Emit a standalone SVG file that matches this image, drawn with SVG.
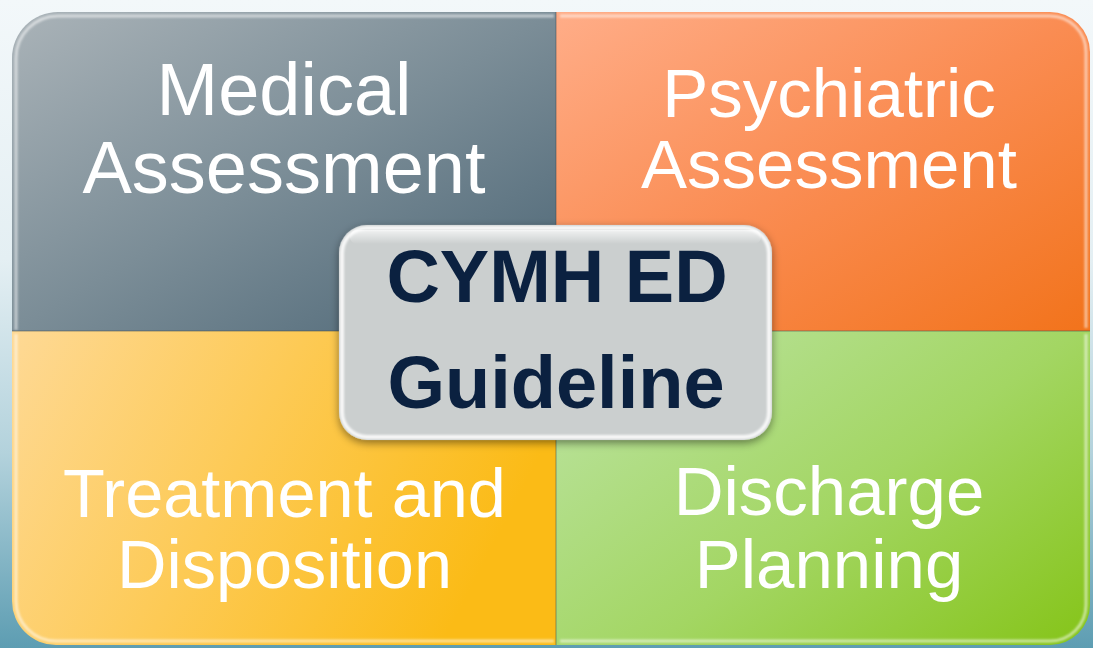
<svg xmlns="http://www.w3.org/2000/svg" width="1093" height="648" viewBox="0 0 1093 648">
  <defs>
    <linearGradient id="bg" x1="0" y1="0" x2="0" y2="1">
      <stop offset="0" stop-color="#f3f8fa"/>
      <stop offset="0.4" stop-color="#e4eff3"/>
      <stop offset="0.7" stop-color="#b3d2dc"/>
      <stop offset="1" stop-color="#5d9db2"/>
    </linearGradient>
    <linearGradient id="gMed" x1="0" y1="0" x2="1" y2="1">
      <stop offset="0" stop-color="#aab3b8"/>
      <stop offset="0.5" stop-color="#7b8d97"/>
      <stop offset="1" stop-color="#4a6474"/>
    </linearGradient>
    <linearGradient id="gPsy" x1="0" y1="0" x2="1" y2="1">
      <stop offset="0" stop-color="#ffad88"/>
      <stop offset="0.5" stop-color="#fa8c52"/>
      <stop offset="1" stop-color="#f2731b"/>
    </linearGradient>
    <linearGradient id="gTrt" x1="0" y1="0" x2="1" y2="0.3">
      <stop offset="0" stop-color="#fed995"/>
      <stop offset="0.5" stop-color="#fdca55"/>
      <stop offset="1" stop-color="#fbbb16"/>
    </linearGradient>
    <linearGradient id="gDis" x1="0" y1="0.2" x2="1" y2="1">
      <stop offset="0" stop-color="#b9e29b"/>
      <stop offset="0.5" stop-color="#a3d663"/>
      <stop offset="1" stop-color="#85c418"/>
    </linearGradient>
    <linearGradient id="gloss" x1="0" y1="0" x2="0" y2="1">
      <stop offset="0" stop-color="#ffffff" stop-opacity="0.9"/>
      <stop offset="1" stop-color="#ffffff" stop-opacity="0"/>
    </linearGradient>
    <filter id="shadow" x="-10%" y="-10%" width="120%" height="130%">
      <feDropShadow dx="0" dy="3" stdDeviation="4" flood-color="#000000" flood-opacity="0.45"/>
    </filter>
    <filter id="soft" x="-5%" y="-5%" width="110%" height="110%">
      <feGaussianBlur stdDeviation="1.2"/>
    </filter>
  </defs>
  <style>
    .quad-label { font-family: "Liberation Sans", Arial, sans-serif; fill: #ffffff; text-anchor: middle; }
    .hub-label { font-family: "Liberation Sans", Arial, sans-serif; font-weight: bold; font-size: 74px; fill: #0b2140; text-anchor: middle; }
    .rim { fill: none; stroke: #ffffff; stroke-opacity: 0.55; stroke-width: 3; }
    .seam { stroke: #3a4a52; stroke-opacity: 0.35; stroke-width: 1.5; }
  </style>

  <!-- backdrop -->
  <rect x="0" y="0" width="1093" height="648" fill="url(#bg)"/>

  <!-- quadrant: medical -->
  <g id="medical">
    <path d="M12,58 A46,46 0 0 1 58,12 L556,12 L556,331 L12,331 Z" fill="url(#gMed)"/>
    <path d="M16,330 L16,58 A42,42 0 0 1 58,16 L554,16" class="rim" filter="url(#soft)"/>
    <text class="quad-label" x="284" y="115" font-size="74">Medical</text>
    <text class="quad-label" x="284" y="193" font-size="74">Assessment</text>
  </g>

  <!-- quadrant: psychiatric -->
  <g id="psychiatric">
    <path d="M556,12 L1050,12 A40,40 0 0 1 1090,52 L1090,331 L556,331 Z" fill="url(#gPsy)"/>
    <path d="M560,16 L1050,16 A36,36 0 0 1 1086,52 L1086,328" class="rim" filter="url(#soft)"/>
    <text class="quad-label" x="829" y="117" font-size="69">Psychiatric</text>
    <text class="quad-label" x="829" y="188" font-size="69">Assessment</text>
  </g>

  <!-- quadrant: treatment -->
  <g id="treatment">
    <path d="M12,331 L556,331 L556,645 L56,645 A44,44 0 0 1 12,601 Z" fill="url(#gTrt)"/>
    <path d="M16,334 L16,601 A40,40 0 0 0 56,641 L554,641" class="rim" filter="url(#soft)"/>
    <text class="quad-label" x="284.5" y="517" font-size="68.5">Treatment and</text>
    <text class="quad-label" x="284.5" y="588" font-size="68.5">Disposition</text>
  </g>

  <!-- quadrant: discharge -->
  <g id="discharge">
    <path d="M556,331 L1090,331 L1090,605 A40,40 0 0 1 1050,645 L556,645 Z" fill="url(#gDis)"/>
    <path d="M1086,334 L1086,605 A36,36 0 0 1 1050,641 L560,641" class="rim" filter="url(#soft)"/>
    <text class="quad-label" x="829" y="515" font-size="69">Discharge</text>
    <text class="quad-label" x="829" y="588" font-size="69">Planning</text>
  </g>

  <!-- seams between the quadrants -->
  <g id="connectors">
    <line class="seam" x1="556" y1="12" x2="556" y2="645"/>
    <line class="seam" x1="12" y1="331" x2="1090" y2="331"/>
  </g>

  <!-- central hub -->
  <g id="hub">
    <rect x="339" y="225" width="433" height="215" rx="28" fill="#cbcfcf" filter="url(#shadow)"/>
    <rect x="342" y="228" width="427" height="209" rx="25" fill="none" stroke="#ffffff" stroke-opacity="0.85" stroke-width="4" filter="url(#soft)"/>
    <rect x="350" y="230" width="411" height="14" rx="7" fill="url(#gloss)" opacity="0.8"/>
    <text class="hub-label" x="557" y="302">CYMH ED</text>
    <text class="hub-label" x="556" y="408">Guideline</text>
  </g>
</svg>
